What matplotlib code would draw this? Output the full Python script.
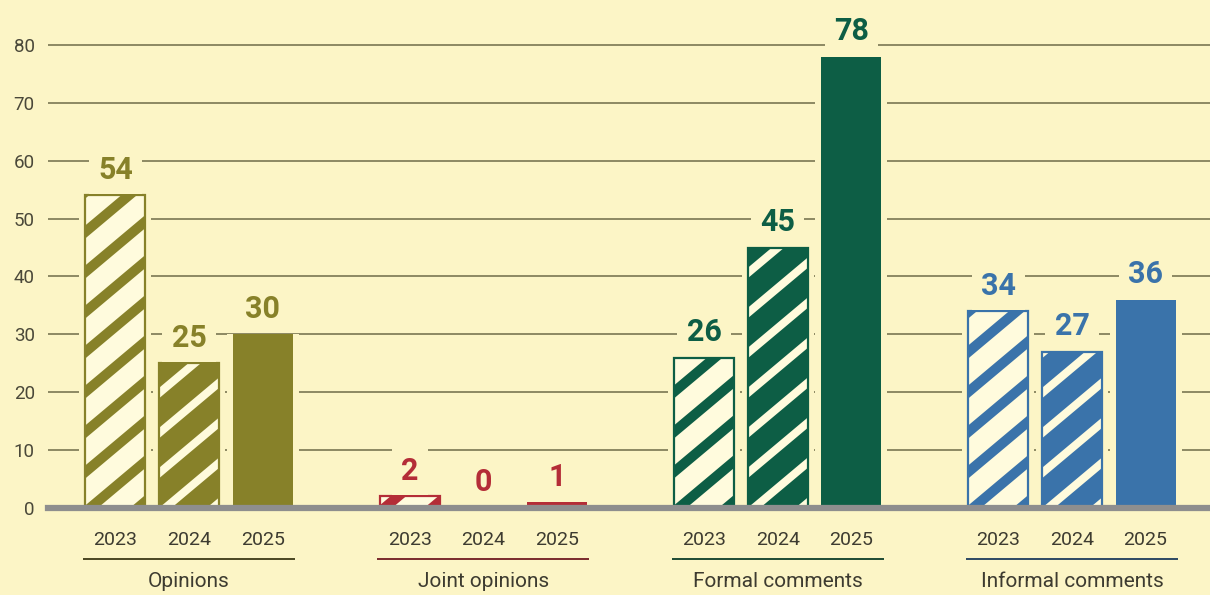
import numpy as np
import matplotlib.pyplot as plt
from matplotlib.patches import Rectangle, Polygon

groups = ["Opinions", "Joint opinions", "Formal comments", "Informal comments"]
years = ["2023", "2024", "2025"]
opinions = [54, 25, 30]
joint_opinions = [2, 0, 1]
formal_comments = [26, 45, 78]
informal_comments = [34, 27, 36]
values = [opinions, joint_opinions, formal_comments, informal_comments]

colors = ["#878129", "#b42d37", "#0d5e45", "#3a73aa"]
dark_colors = ["#4a4622", "#7a2a2c", "#1d4a33", "#2d4963"]
bg = "#fcf5c6"
light = "#fffbdd"
grid_col = "#8c8963"
text_col = "#3d3b30"

plt.rcParams["font.family"] = ["Roboto", "DejaVu Sans"]

fig = plt.figure(figsize=(12.1, 5.95), dpi=100)
fig.patch.set_facecolor(bg)
ax = fig.add_axes([48 / 1210, 87 / 595, 1 - 48 / 1210, 508 / 595])
ax.set_facecolor(bg)
ax.set_xlim(-0.479, 3.469)
ax.set_ylim(0, 87.77)
for s in ax.spines.values():
    s.set_visible(False)
ax.set_xticks([])
ax.set_yticks(range(0, 81, 10))
ax.tick_params(axis="y", length=0, pad=9.5, labelsize=13.5, labelcolor="#4a4839")

for y in range(10, 81, 10):
    ax.axhline(y, color=grid_col, lw=1.4, zorder=0)
ax.axhline(0, color="#8e8e8e", lw=4.5, zorder=8, clip_on=False)

# pixel scale of the data axes, used for the diagonal stripes
p0 = ax.transData.transform((0, 0))
p1 = ax.transData.transform((1, 1))
sx, sy = p1[0] - p0[0], p1[1] - p0[1]

offsets = [-0.25, 0, 0.25]
width = 0.204
margin = 6 / sx
tan_a = np.tan(np.radians(40))
period = 40.0


def stripes(x0, h, color, thick_perp, clip):
    # parallel bands at 40 degrees, anchored at the bar's lower left corner
    w_px = width * sx
    h_px = h * sy
    t_v = thick_perp / np.cos(np.radians(40))
    c = -tan_a * w_px - period
    while c < h_px + period:
        xs = np.array([0, w_px, w_px, 0])
        ys = np.array([c, c + tan_a * w_px, c + tan_a * w_px + t_v, c + t_v])
        poly = Polygon(np.column_stack([x0 + xs / sx, ys / sy]), closed=True,
                       fc=color, ec="none", zorder=3)
        ax.add_patch(poly)
        poly.set_clip_path(clip)
        c += period


for g, (vals, col, dcol) in enumerate(zip(values, colors, dark_colors)):
    for i, v in enumerate(vals):
        xc = g + offsets[i]
        x0 = xc - width / 2
        # background strip that breaks the gridlines around the bar
        ax.add_patch(Rectangle((x0 - margin, 0), width + 2 * margin, v,
                               fc=bg, ec="none", zorder=1))
        if v > 0:
            if i == 2:
                ax.add_patch(Rectangle((x0, 0), width, v, fc=col, ec="none", zorder=2))
            else:
                base = Rectangle((x0, 0), width, v, fc=light if i == 0 else col,
                                 ec="none", zorder=2)
                ax.add_patch(base)
                if i == 0:
                    stripes(x0, v, col, 10, base)
                else:
                    stripes(x0, v, light, 8, base)
                ax.add_patch(Rectangle((x0, 0), width, v, fc="none", ec=col,
                                       lw=1.6, zorder=4))
        ax.annotate(str(v), (xc, v), xytext=(0, 12), textcoords="offset points",
                    ha="center", va="baseline", fontsize=22, fontweight="bold",
                    color=col, zorder=7,
                    bbox=dict(boxstyle="square,pad=0.3", fc=bg, ec="none"))
        ax.text(xc, -5.5, years[i], ha="center", va="center", fontsize=14,
                color=text_col, clip_on=False)
    ax.plot([g - 0.36, g + 0.36], [-8.8, -8.8], color=dcol, lw=1.4,
            clip_on=False, solid_capstyle="butt")
    ax.text(g, -12.7, groups[g], ha="center", va="center", fontsize=15,
            color=text_col, clip_on=False)

fig.savefig("out.png", dpi=100, facecolor=bg)
